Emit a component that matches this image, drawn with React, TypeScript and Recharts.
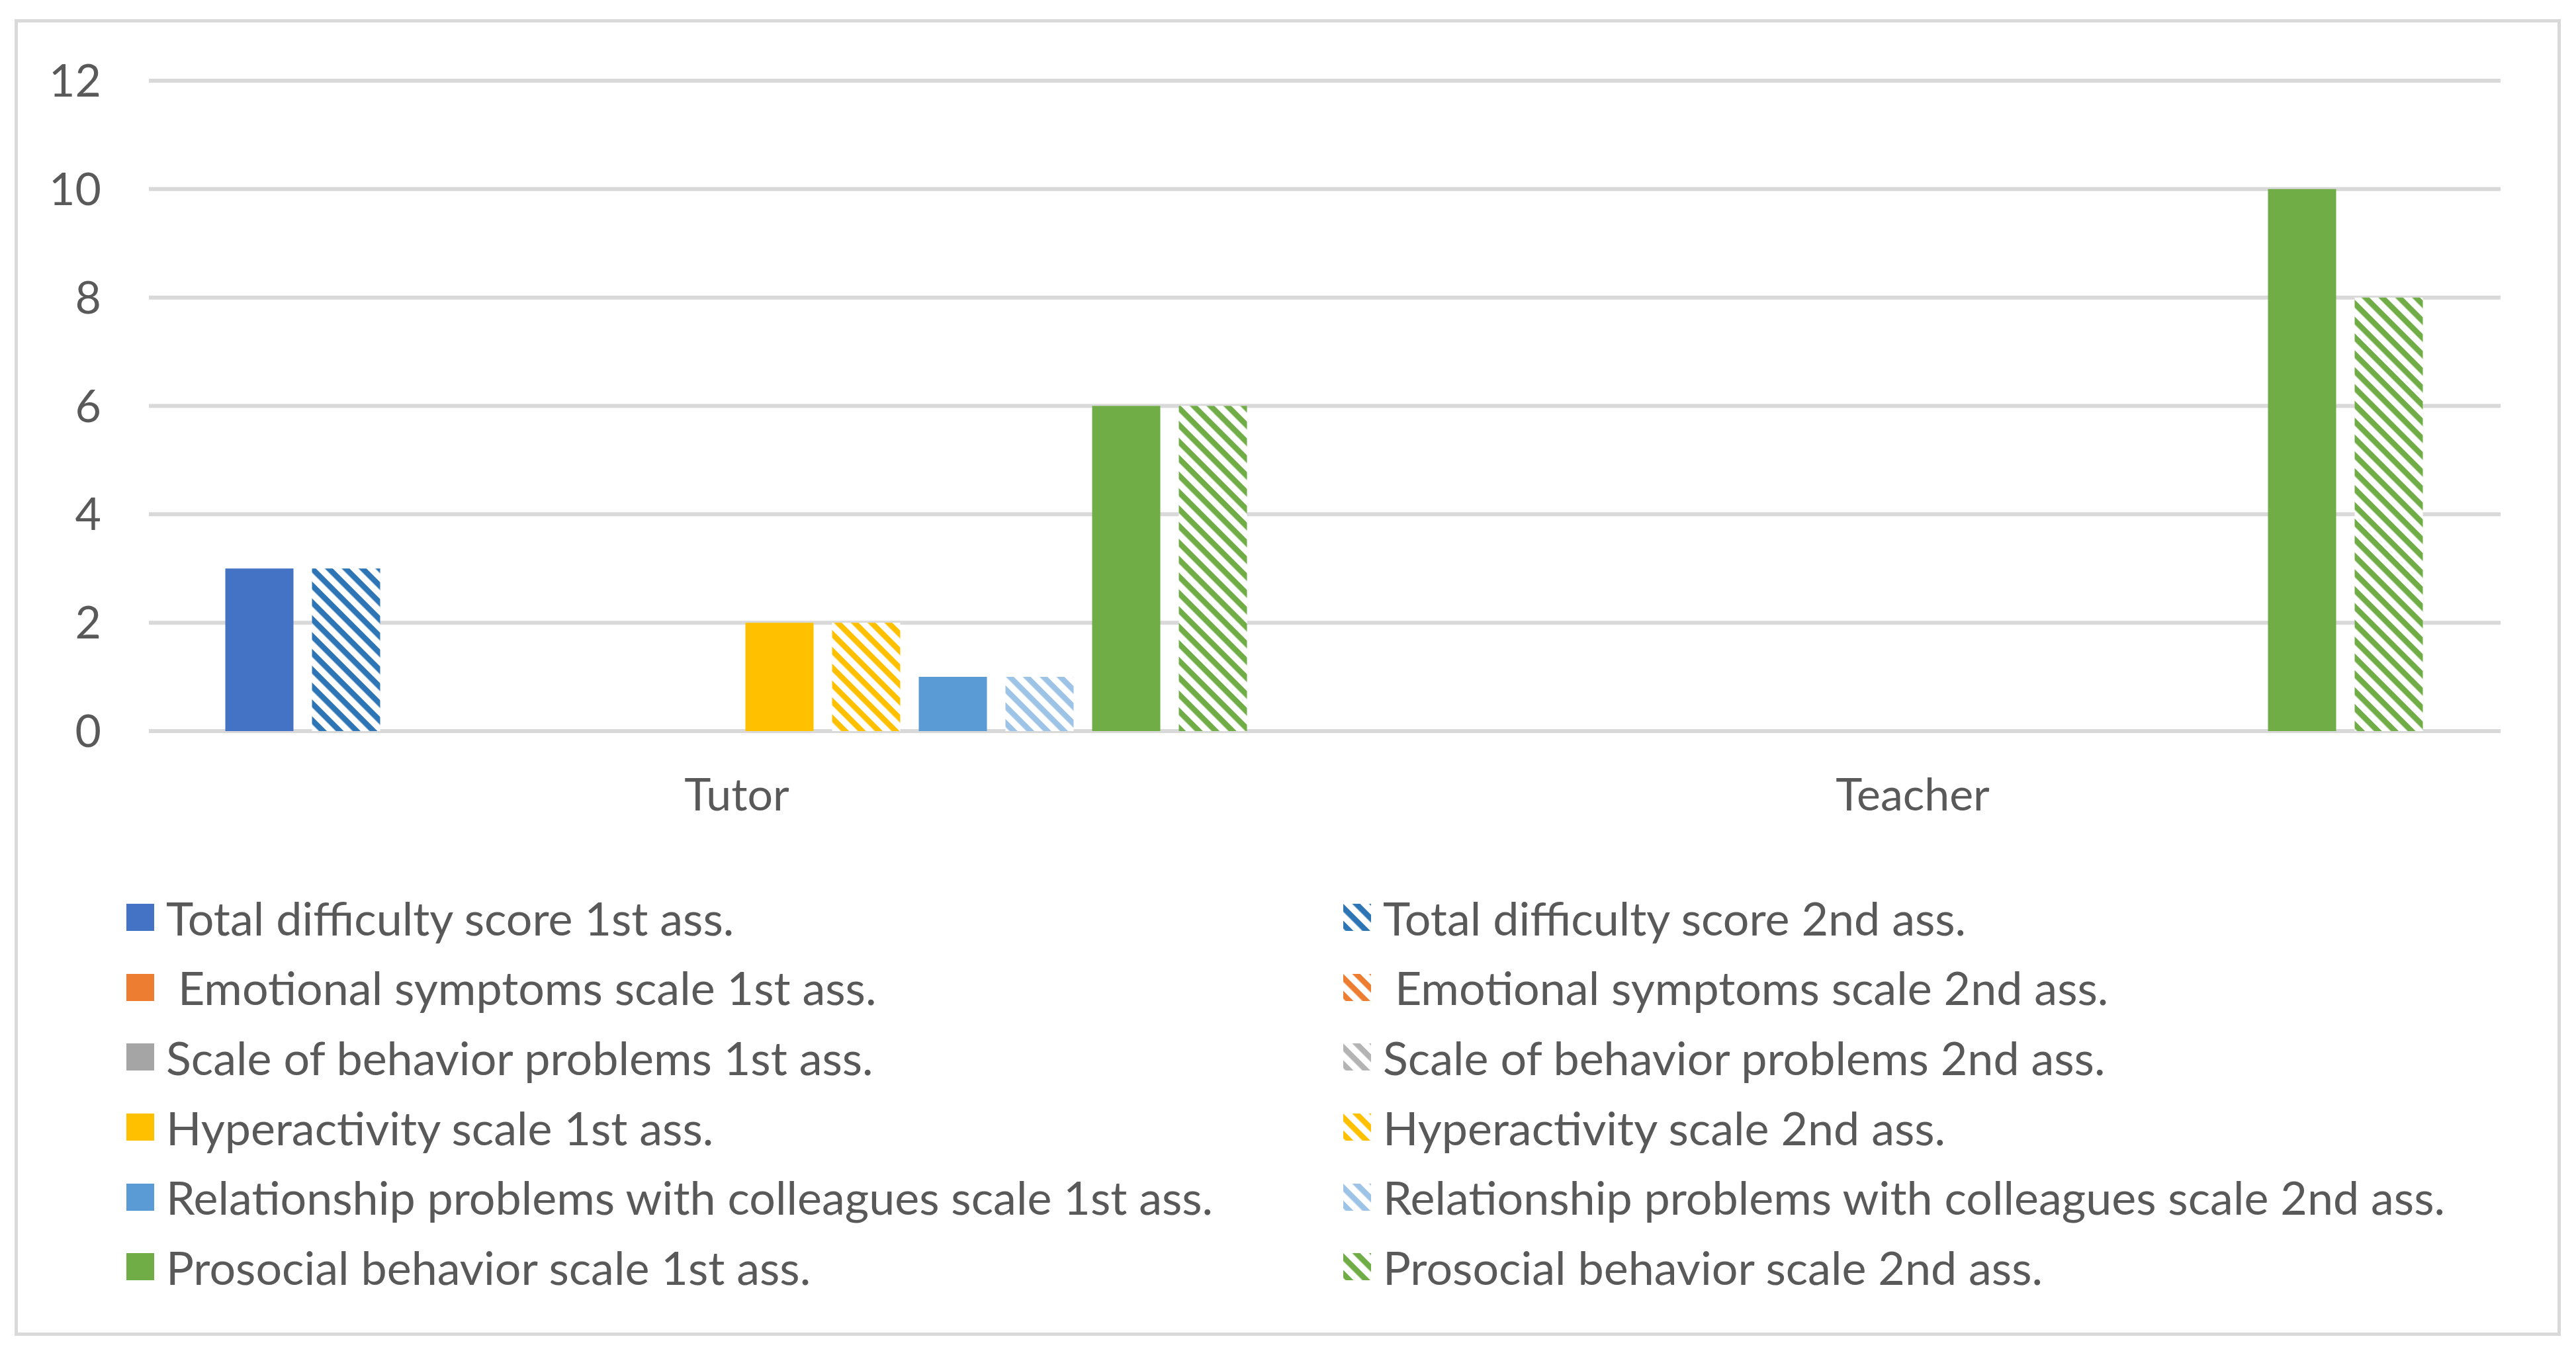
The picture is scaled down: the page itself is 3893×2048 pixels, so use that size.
import { BarChart, Bar, XAxis, YAxis, CartesianGrid, Legend } from 'recharts';

const categories = ['Tutor', 'Teacher'];

const totalDifficulty1st = [3, 0];
const totalDifficulty2nd = [3, 0];
const emotional1st = [0, 0];
const emotional2nd = [0, 0];
const behavior1st = [0, 0];
const behavior2nd = [0, 0];
const hyperactivity1st = [2, 0];
const hyperactivity2nd = [2, 0];
const relationship1st = [1, 0];
const relationship2nd = [1, 0];
const prosocial1st = [6, 10];
const prosocial2nd = [6, 8];

const yTicks = [0, 2, 4, 6, 8, 10, 12];

const SERIES = [
  { key: 'td1', name: 'Total difficulty score 1st ass.', values: totalDifficulty1st, color: '#4472C4', hatch: false },
  { key: 'td2', name: 'Total difficulty score 2nd ass.', values: totalDifficulty2nd, color: '#2E75B6', hatch: true },
  { key: 'em1', name: '\u00A0Emotional symptoms scale 1st ass.', values: emotional1st, color: '#ED7D31', hatch: false },
  { key: 'em2', name: '\u00A0Emotional symptoms scale 2nd ass.', values: emotional2nd, color: '#ED7D31', hatch: true },
  { key: 'bp1', name: 'Scale of behavior problems 1st ass.', values: behavior1st, color: '#A5A5A5', hatch: false },
  { key: 'bp2', name: 'Scale of behavior problems 2nd ass.', values: behavior2nd, color: '#B4B4B4', hatch: true },
  { key: 'hy1', name: 'Hyperactivity scale 1st ass.', values: hyperactivity1st, color: '#FFC000', hatch: false },
  { key: 'hy2', name: 'Hyperactivity scale 2nd ass.', values: hyperactivity2nd, color: '#FFC000', hatch: true },
  { key: 'rp1', name: 'Relationship problems with colleagues scale 1st ass.', values: relationship1st, color: '#5B9BD5', hatch: false },
  { key: 'rp2', name: 'Relationship problems with colleagues scale 2nd ass.', values: relationship2nd, color: '#9DC3E6', hatch: true },
  { key: 'ps1', name: 'Prosocial behavior scale 1st ass.', values: prosocial1st, color: '#70AD47', hatch: false },
  { key: 'ps2', name: 'Prosocial behavior scale 2nd ass.', values: prosocial2nd, color: '#70AD47', hatch: true },
];

const data = categories.map((category, i) => {
  const row: Record<string, string | number> = { category };
  SERIES.forEach((s) => {
    row[s.key] = s.values[i];
  });
  return row;
});

const FONT = 'Lato, "Open Sans", sans-serif';
const TEXT = '#595959';
const GRID = '#D9D9D9';
const AXIS_FS = 68;
const LEGEND_FS = 70;

const fillFor = (s: (typeof SERIES)[number]) => (s.hatch ? `url(#hatch-${s.key})` : s.color);

function LegendBox() {
  return (
    <div
      style={{
        display: 'grid',
        gridTemplateColumns: '1839px 1fr',
        gridAutoRows: '105.6px',
        fontFamily: FONT,
        fontSize: LEGEND_FS,
        color: TEXT,
      }}
    >
      {SERIES.map((s) => (
        <div key={s.key} style={{ display: 'flex', alignItems: 'center', whiteSpace: 'nowrap' }}>
          <svg width={42} height={41} style={{ marginRight: 18, flex: 'none' }}>
            <rect width={42} height={41} fill={fillFor(s)} />
          </svg>
          <span>{s.name}</span>
        </div>
      ))}
    </div>
  );
}

export default function App() {
  return (
    <div style={{ position: 'absolute', left: 0, top: 0, width: 3893, height: 2048, background: '#fff' }}>
      <div
        style={{
          position: 'absolute',
          left: 22,
          top: 29,
          width: 3848,
          height: 1990,
          border: `5px solid ${GRID}`,
          boxSizing: 'border-box',
        }}
      />
      <div style={{ position: 'absolute', left: 0, top: 0 }}>
        <BarChart
          width={3893}
          height={2048}
          data={data}
          margin={{ top: 122, right: 114, left: 0, bottom: 843 }}
          barCategoryGap="6.5%"
          barGap={28}
        >
          <defs>
            {SERIES.filter((s) => s.hatch).map((s) => (
              <pattern
                key={s.key}
                id={`hatch-${s.key}`}
                patternUnits="userSpaceOnUse"
                width={18}
                height={18}
                patternTransform="rotate(45)"
              >
                <rect width={18} height={18} fill="#ffffff" />
                <rect width={18} height={8.5} fill={s.color} />
              </pattern>
            ))}
          </defs>
          <CartesianGrid vertical={false} stroke={GRID} strokeWidth={6} />
          <XAxis
            dataKey="category"
            axisLine={false}
            tickLine={false}
            tickSize={0}
            tickMargin={72}
            height={100}
            tick={{ fill: TEXT, fontSize: AXIS_FS, fontFamily: FONT }}
          />
          <YAxis
            domain={[0, 12]}
            ticks={yTicks}
            axisLine={false}
            tickLine={false}
            tickSize={0}
            tickMargin={72}
            width={225}
            tick={{ fill: TEXT, fontSize: AXIS_FS, fontFamily: FONT }}
          />
          <Legend
            layout="horizontal"
            align="center"
            verticalAlign="middle"
            wrapperStyle={{ left: 191, top: 1334, width: 3600 }}
            content={() => <LegendBox />}
          />
          {SERIES.map((s) => (
            <Bar key={s.key} dataKey={s.key} name={s.name} fill={fillFor(s)} isAnimationActive={false} />
          ))}
        </BarChart>
      </div>
    </div>
  );
}
